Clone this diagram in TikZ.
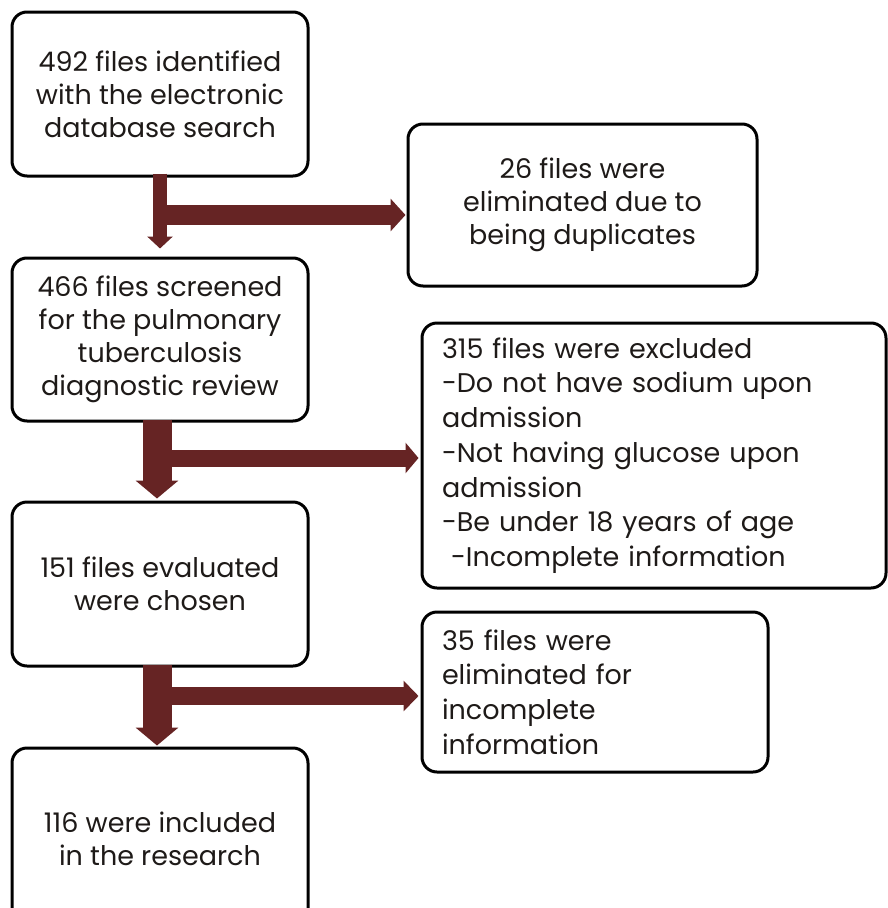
\documentclass[tikz,border=0pt]{standalone}
\usepackage{fontspec}
\setmainfont{Poppins}
\usetikzlibrary{arrows.meta,calc}
\definecolor{flowred}{RGB}{102,36,36}
\definecolor{flowtext}{RGB}{30,26,24}

\begin{document}
\begin{tikzpicture}[x=1pt,y=-1pt,
  box/.style={draw,line width=3pt,rounded corners=15pt,inner sep=0pt,align=center,
    text=flowtext,font=\fontsize{27}{33}\selectfont},
  listbox/.style={box,align=left,inner xsep=20pt,font=\fontsize{27}{34.7}\selectfont},
  downflow/.style={draw=flowred,line width=#1},
  sideflow/.style={draw=flowred,line width=#1}]
  \useasboundingbox (0,0) rectangle (888,908);
  \clip (0,0) rectangle (888,908);
  % main column
  \node[box,minimum width=296pt,minimum height=164pt] (found) at (160,94)
    {492 files identified\\with the electronic\\database search};
  \node[box,minimum width=296pt,minimum height=163pt] (screen) at (160,339.5)
    {466 files screened\\for the pulmonary\\tuberculosis\\diagnostic review};
  \node[box,minimum width=296pt,minimum height=164pt] (chosen) at (160,584)
    {151 files evaluated\\were chosen};
  \node[box,minimum width=296pt,minimum height=182pt] (incl) at (160,839)
    {116 were included\\in the research};
  % exclusions
  \node[box,minimum width=349pt,minimum height=162pt] (dupl) at (582.5,205)
    {26 files were\\eliminated due to\\being duplicates};
  \node[listbox,text width=424pt,minimum height=265pt] (excl) at (654,455.5)
    {315 files were excluded\\-Do not have sodium upon\\admission\\-Not having glucose upon\\admission\\-Be under 18 years of age\\\ -Incomplete information};
  \node[listbox,text width=306pt,minimum height=160pt] (incompl) at (595,692)
    {35 files were\\eliminated for\\incomplete\\information};
  \coordinate (in1) at ([yshift=-10pt]dupl.west);
  \coordinate (in2) at ([yshift=-2.5pt]excl.west);
  \coordinate (in3) at ([yshift=-4pt]incompl.west);
  % arrows
  \draw[downflow=14pt,-{Triangle[width=25pt,length=12pt]},shorten <=-4pt,shorten >=8pt]
    (found.south) -- (screen.north);
  \draw[sideflow=20pt,-{Triangle[width=32pt,length=15pt]},shorten >=1pt]
    (found.south |- in1) -- (in1);
  \draw[downflow=29pt,-{Triangle[width=42pt,length=18pt]},shorten <=-3pt,shorten >=2pt]
    ([xshift=-3pt]screen.south) -- ([xshift=-3pt]chosen.north);
  \draw[sideflow=17pt,-{Triangle[width=30pt,length=13pt]},shorten >=2pt]
    ([xshift=-3pt]screen.south |- in2) -- (in2);
  \draw[downflow=29pt,-{Triangle[width=42pt,length=18pt]},shorten <=-3pt,shorten >=1pt]
    ([xshift=-3pt]chosen.south) -- ([xshift=-3pt]incl.north);
  \draw[sideflow=18pt,-{Triangle[width=30pt,length=15pt]},shorten >=2pt]
    ([xshift=-3pt]chosen.south |- in3) -- (in3);
\end{tikzpicture}
\end{document}
